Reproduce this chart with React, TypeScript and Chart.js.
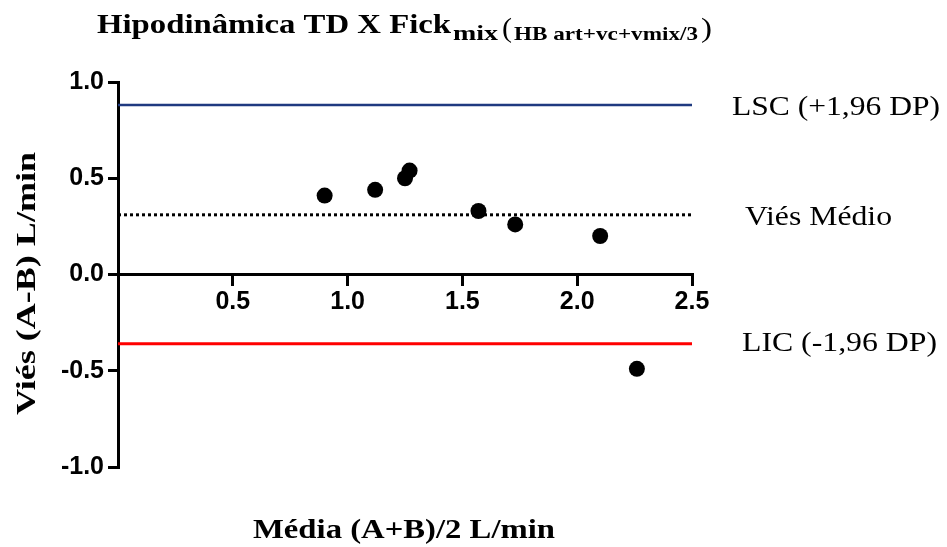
import { useEffect, useRef } from 'react';
import { Chart, registerables } from 'chart.js';

Chart.register(...registerables);

// Bland-Altman data: mean of the two methods (x) vs. their difference (y)
const meanValues = [0.9, 1.12, 1.25, 1.27, 1.57, 1.73, 2.1, 2.26];
const diffValues = [0.41, 0.44, 0.5, 0.54, 0.33, 0.26, 0.2, -0.49];

// Limits of agreement and mean bias
const upperLimit = 0.88;
const meanBias = 0.31;
const lowerLimit = -0.36;
const limitSpan = [0, 2.5];

const xTicks = [0.5, 1.0, 1.5, 2.0, 2.5];
const yTicks = [-1.0, -0.5, 0.0, 0.5, 1.0];

const titleMain = 'Hipodinâmica TD X Fick';
const titleSub = 'mix';
const titleNote = 'HB art+vc+vmix/3';
const xTitle = 'Média (A+B)/2 L/min';
const yTitle = 'Viés (A-B) L/min';
const upperLabel = 'LSC (+1,96 DP)';
const biasLabel = 'Viés Médio';
const lowerLabel = 'LIC (-1,96 DP)';

const SERIF = '"Liberation Serif", "Times New Roman", serif';
const SANS = '"Liberation Sans", Arial, sans-serif';

// Draw text squeezed/stretched horizontally so it spans a given width
function fitText(
  ctx: CanvasRenderingContext2D,
  text: string,
  x: number,
  y: number,
  width: number,
  font: string
) {
  ctx.font = font;
  const w = ctx.measureText(text).width || 1;
  ctx.save();
  ctx.translate(x, y);
  ctx.scale(width / w, 1);
  ctx.textAlign = 'left';
  ctx.fillText(text, 0, 0);
  ctx.restore();
}

const textPlugin = {
  id: 'blandAltmanText',
  afterDraw(chart: any) {
    const ctx: CanvasRenderingContext2D = chart.ctx;
    const ys = chart.scales.y;
    ctx.save();
    ctx.fillStyle = '#000';
    ctx.textBaseline = 'alphabetic';

    // chart title with subscripted parts
    fitText(ctx, titleMain, 97, 33, 354, `bold 28px ${SERIF}`);
    fitText(ctx, titleSub, 453, 40, 45, `bold 20px ${SERIF}`);
    fitText(ctx, '(', 502, 37, 10, `28px ${SERIF}`);
    fitText(ctx, titleNote, 514, 40, 184, `bold 19px ${SERIF}`);
    fitText(ctx, ')', 701, 37, 11, `28px ${SERIF}`);

    // axis titles
    fitText(ctx, xTitle, 253, 538, 302, `bold 27px ${SERIF}`);
    ctx.save();
    ctx.translate(35, 415);
    ctx.rotate(-Math.PI / 2);
    fitText(ctx, yTitle, 0, 0, 263, `bold 27px ${SERIF}`);
    ctx.restore();

    // labels for the reference lines
    fitText(ctx, upperLabel, 732, ys.getPixelForValue(upperLimit) + 10, 208, `28px ${SERIF}`);
    fitText(ctx, biasLabel, 745, ys.getPixelForValue(meanBias) + 10, 147, `28px ${SERIF}`);
    fitText(ctx, lowerLabel, 742, ys.getPixelForValue(lowerLimit) + 7, 195, `28px ${SERIF}`);
    ctx.restore();
  },
};

export default function App() {
  const canvasRef = useRef<HTMLCanvasElement | null>(null);

  useEffect(() => {
    const canvas = canvasRef.current;
    if (!canvas) return;

    const line = (value: number) => limitSpan.map((x) => ({ x, y: value }));

    const chart = new Chart(canvas, {
      type: 'scatter',
      data: {
        datasets: [
          {
            label: 'LSC',
            data: line(upperLimit),
            showLine: true,
            borderColor: '#1f3a80',
            borderWidth: 2.5,
            pointRadius: 0,
          },
          {
            label: 'Viés médio',
            data: line(meanBias),
            showLine: true,
            borderColor: '#000',
            borderWidth: 3,
            borderDash: [3, 3],
            pointRadius: 0,
          },
          {
            label: 'LIC',
            data: line(lowerLimit),
            showLine: true,
            borderColor: '#ff0000',
            borderWidth: 3,
            pointRadius: 0,
          },
          {
            label: 'Diferença',
            data: meanValues.map((x, i) => ({ x, y: diffValues[i] })),
            backgroundColor: '#000',
            borderColor: '#000',
            borderWidth: 0,
            pointRadius: 8,
          },
        ],
      },
      options: {
        responsive: false,
        animation: false,
        events: [],
        layout: { padding: { left: 0, top: 82, right: 255, bottom: 80 } },
        plugins: {
          legend: { display: false },
          title: { display: false },
          tooltip: { enabled: false },
        },
        scales: {
          x: {
            type: 'linear',
            min: 0,
            max: 2.5,
            position: { y: 0 } as any,
            afterBuildTicks: (s: any) => {
              s.ticks = xTicks.map((value) => ({ value }));
            },
            ticks: {
              color: '#000',
              padding: 3,
              maxRotation: 0,
              font: { family: SANS, size: 25, weight: 'bold' },
              callback: (v: any) => Number(v).toFixed(1),
            },
            grid: {
              display: true,
              drawOnChartArea: false,
              drawTicks: true,
              tickLength: 10,
              color: '#000',
              lineWidth: 3,
            },
            border: { display: true, color: '#000', width: 3 },
          },
          y: {
            type: 'linear',
            min: -1,
            max: 1,
            afterBuildTicks: (s: any) => {
              s.ticks = yTicks.map((value) => ({ value }));
            },
            afterFit: (s: any) => {
              s.width = 118;
            },
            ticks: {
              color: '#000',
              padding: 4,
              font: { family: SANS, size: 25, weight: 'bold' },
              callback: (v: any) => Number(v).toFixed(1),
            },
            grid: {
              display: true,
              drawOnChartArea: false,
              drawTicks: true,
              tickLength: 10,
              color: '#000',
              lineWidth: 3,
            },
            border: { display: true, color: '#000', width: 3 },
          },
        },
      },
      plugins: [textPlugin],
    });

    return () => chart.destroy();
  }, []);

  return (
    <div style={{ position: 'absolute', left: 0, top: 0, width: 947, height: 547, background: '#fff' }}>
      <canvas ref={canvasRef} width={947} height={547} style={{ width: 947, height: 547, display: 'block' }} />
    </div>
  );
}
